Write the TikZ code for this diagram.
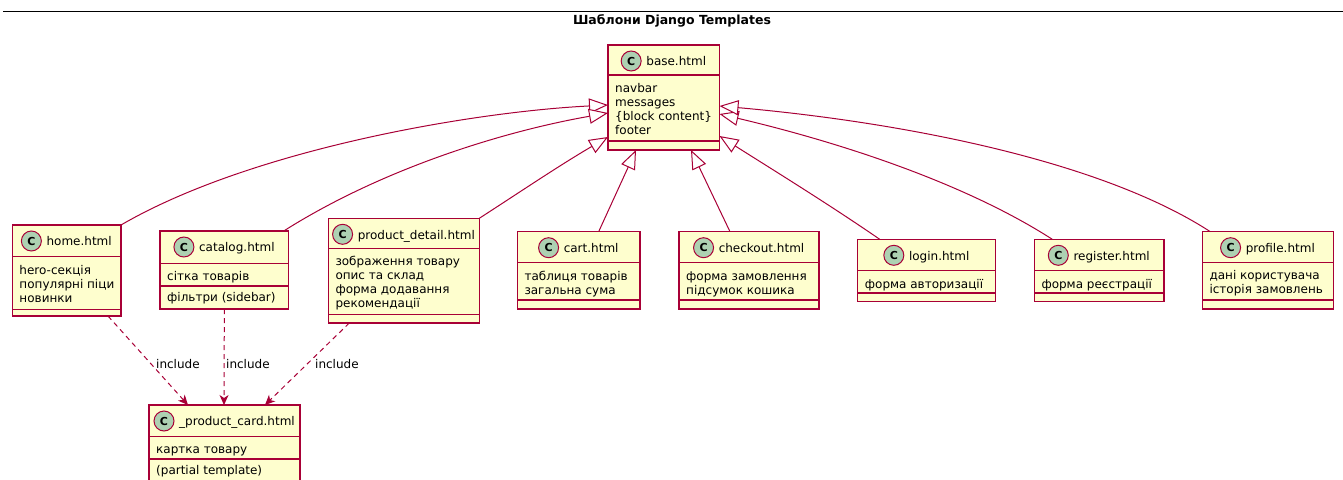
\documentclass[tikz,border=0pt]{standalone}
\usepackage{fontspec}
\setmainfont{DejaVu Sans}
\usetikzlibrary{arrows.meta,calc}
\definecolor{umlred}{HTML}{A80036}
\definecolor{umlfill}{HTML}{FEFECE}
\definecolor{umlcirc}{HTML}{ADD1B2}
\tikzset{
  clsbox/.style={draw=umlred, fill=umlfill, line width=1.5pt, inner sep=0pt, outer sep=0pt, rectangle},
  sepline/.style={draw=umlred, line width=1.5pt},
  nametext/.style={inner sep=0pt, font=\fontsize{12}{14}\selectfont},
  attrtext/.style={inner sep=0pt, font=\fontsize{12}{14}\selectfont, anchor=base west},
  circ/.style={circle, draw=umlred, fill=umlcirc, line width=1pt, minimum size=20pt, inner sep=0pt, font=\bfseries\fontsize{11}{11}\selectfont},
  inherit/.style={draw=umlred, line width=1pt, -{Triangle[fill=white, length=19pt, width=15pt]}},
  dep/.style={draw=umlred, line width=1pt, dash pattern=on 5pt off 4pt, -{Stealth[length=10pt, width=9pt, inset=3pt]}},
  lbl/.style={inner sep=0pt, font=\fontsize{12}{14}\selectfont, anchor=base west},
  titletext/.style={inner sep=0pt, font=\bfseries\fontsize{12.5}{14}\selectfont, anchor=base},
}
% #1 id, #2 left, #3 top, #4 right, #5 sep1, #6 sep2, #7 bottom, #8 title
\newcommand{\umlclass}[8]{%
  \node[clsbox, anchor=north west, minimum width={#4pt-#2pt}, minimum height={#7pt-#3pt}] (#1) at (#2,#3) {};
  \draw[sepline] (#2,#5) -- (#4,#5);
  \draw[sepline] (#2,#6) -- (#4,#6);
  \node[nametext, anchor=base] (#1-name) at ({(#2+#4)/2+12.5},{#3+20.7}) {#8};
  \coordinate (#1-cx) at ([xshift=-15pt]#1-name.west);
  \coordinate (#1-cy) at (#2,{#3+16});
  \node[circ] (#1-c) at (#1-cx |- #1-cy) {C};
}
% #1 id, #2 x, #3 first baseline, #4 list
\newcommand{\umlattrs}[4]{%
  \foreach \atxt [count=\i from 0] in {#4} {
    \node[attrtext] (#1-a\i) at ({#2},{#3+14*\i}) {\atxt};
  }
}
\begin{document}
\begin{tikzpicture}[x=1pt, y=-1pt]
\useasboundingbox (0,0) rectangle (1343,479);
\clip (0,0) rectangle (1343,479);

% title and frame line
\coordinate (topL) at (3,11);
\coordinate (topR) at (1343,11);
\draw[line width=1pt, black] (topL) -- (topR);
\node[titletext] (title) at (672,24.5) {Шаблони Django Templates};

% classes
\umlclass{base}{608}{45}{719.5}{75}{141}{150}{base.html}
\umlattrs{base}{615}{92.3}{navbar, messages, \{block content\}, footer}

\umlclass{home}{12.3}{225}{121}{256.7}{309.3}{316}{home.html}
\umlattrs{home}{19.3}{274}{hero-секція, популярні піци, новинки}

\umlclass{catalog}{160}{231}{288.7}{263.3}{286}{309}{catalog.html}
\umlattrs{catalog}{167}{280.6}{сітка товарів}
\umlattrs{catalogm}{167}{301.2}{фільтри (sidebar)}

\umlclass{pd}{328.3}{218.3}{479.3}{248.3}{314.3}{323}{product\_detail.html}
\umlattrs{pd}{335.3}{265.6}{зображення товару, опис та склад, форма додавання, рекомендації}

\umlclass{cart}{517.3}{231.7}{640}{262.7}{300}{309}{cart.html}
\umlattrs{cart}{524.3}{280}{таблиця товарів, загальна сума}

\umlclass{checkout}{679}{231.7}{819}{262.7}{300}{309}{checkout.html}
\umlattrs{checkout}{686}{280}{форма замовлення, підсумок кошика}

\umlclass{login}{857.7}{239.3}{995.7}{270.7}{293}{301.7}{login.html}
\umlattrs{login}{864.7}{288}{форма авторизації}

\umlclass{register}{1034.3}{239.3}{1164}{270.7}{293}{301.7}{register.html}
\umlattrs{register}{1041.3}{288}{форма реєстрації}

\umlclass{profile}{1202.3}{231.7}{1333.3}{262.3}{300}{309}{profile.html}
\umlattrs{profile}{1209.3}{279.6}{дані користувача, історія замовлень}

\umlclass{card}{149}{405}{300}{436.7}{459}{490}{\_product\_card.html}
\umlattrs{card}{156}{453.7}{картка товару}
\umlattrs{cardm}{156}{474.5}{(partial template)}

% inheritance
\draw[inherit] (home.north east) .. controls (250,150) and (470,112) .. ($(base.north west)+(0,60)$);
\draw[inherit] ($(catalog.north east)+(-5,0)$) .. controls (380,170) and (500,132) .. ($(base.north west)+(0,68)$);
\draw[inherit] (pd.north east) .. controls (520,192) and (560,165) .. ($(base.north west)+(0,92)$);
\draw[inherit] ($(cart.north)+(20,0)$) -- ($(base.south west)+(28,0)$);
\draw[inherit] ($(checkout.north)+(-19,0)$) -- ($(base.south west)+(83,0)$);
\draw[inherit] ($(login.north west)+(22,0)$) .. controls (830,205) and (770,168) .. ($(base.north east)+(0,91)$);
\draw[inherit] ($(register.north west)+(18,0)$) .. controls (960,180) and (830,140) .. ($(base.north east)+(0,69)$);
\draw[inherit] ($(profile.north west)+(8,0)$) .. controls (1100,160) and (900,122) .. ($(base.north east)+(0,61)$);

% includes
\draw[dep] ($(home.south east)+(-13,0)$) -- ($(card.north west)+(39,0)$);
\draw[dep] (catalog.south) -- ($(card.north west)+(75,0)$);
\draw[dep] ($(pd.south west)+(21,0)$) -- ($(card.north west)+(116,0)$);
\node[lbl] (inc1) at (156,368) {include};
\node[lbl] (inc2) at (226,368) {include};
\node[lbl] (inc3) at (315,368) {include};
\end{tikzpicture}
\end{document}
